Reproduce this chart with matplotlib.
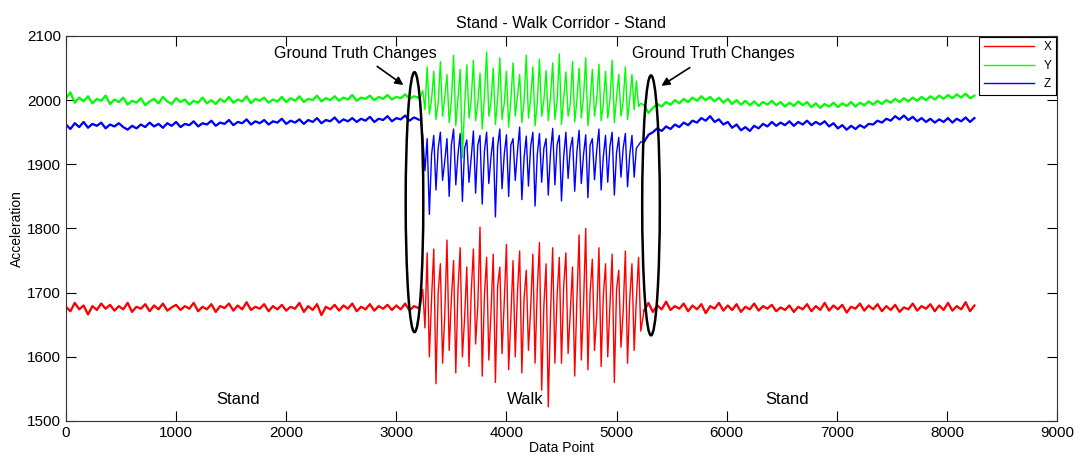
import numpy as np
import matplotlib
matplotlib.use("Agg")
import matplotlib.pyplot as plt
from matplotlib.patches import Ellipse

plt.rcParams['font.family'] = ['Liberation Sans', 'DejaVu Sans']

# sample positions of the three segments
x_stand1 = np.arange(0, 3201, 40)
x_walk = np.arange(3220, 5240, 20)
x_stand2 = np.arange(5250, 8251, 40)

# X axis (red)
red_stand1 = [
    1678, 1671, 1684, 1674, 1680, 1666, 1679, 1673, 1683, 1675, 1681, 1672,
    1679, 1674, 1684, 1670, 1678, 1675, 1682, 1671, 1680, 1674, 1683, 1672,
    1677, 1681, 1673, 1679, 1675, 1684, 1671, 1678, 1674, 1682, 1670, 1679,
    1676, 1683, 1672, 1680, 1674, 1685, 1673, 1678, 1675, 1682, 1671, 1679,
    1674, 1681, 1672, 1678, 1675, 1684, 1670, 1679, 1673, 1682, 1665, 1678,
    1674, 1681, 1672, 1680, 1675, 1683, 1671, 1678, 1674, 1682, 1672, 1679,
    1675, 1681, 1673, 1680, 1674, 1683, 1672, 1679, 1676]
red_walk = [
    1682, 1705, 1645, 1762, 1600, 1690, 1768, 1558, 1700, 1745, 1590, 1665,
    1782, 1610, 1690, 1750, 1575, 1705, 1770, 1600, 1660, 1740, 1585, 1700,
    1768, 1620, 1680, 1802, 1570, 1695, 1755, 1595, 1670, 1760, 1560, 1710,
    1740, 1605, 1685, 1775, 1580, 1660, 1750, 1600, 1700, 1765, 1575, 1690,
    1735, 1610, 1675, 1760, 1590, 1705, 1778, 1548, 1680, 1745, 1522, 1665,
    1770, 1590, 1695, 1755, 1590, 1710, 1762, 1605, 1670, 1740, 1570, 1690,
    1790, 1595, 1680, 1800, 1580, 1700, 1752, 1610, 1665, 1770, 1585, 1695,
    1745, 1600, 1680, 1760, 1560, 1705, 1735, 1615, 1670, 1765, 1590, 1690,
    1745, 1610, 1690, 1755, 1640]
red_stand2 = [
    1672, 1684, 1670, 1680, 1674, 1686, 1673, 1679, 1675, 1683, 1671, 1680,
    1674, 1682, 1668, 1679, 1675, 1684, 1672, 1680, 1673, 1682, 1670, 1678,
    1674, 1683, 1672, 1679, 1675, 1681, 1671, 1677, 1673, 1680, 1670, 1678,
    1674, 1682, 1671, 1679, 1673, 1684, 1672, 1680, 1674, 1681, 1669, 1678,
    1675, 1683, 1672, 1680, 1674, 1682, 1671, 1679, 1673, 1681, 1670, 1677,
    1674, 1683, 1672, 1679, 1675, 1682, 1671, 1680, 1673, 1684, 1672, 1679,
    1674, 1685, 1671, 1680]

# Y axis (green)
green_stand1 = [
    2003, 2012, 1996, 2004, 1998, 2006, 1995, 2002, 1999, 2007, 1994, 2001,
    1997, 2004, 1993, 1999, 1996, 2003, 1992, 1998, 2002, 1995, 2005, 1998,
    1994, 2003, 1997, 2001, 1993, 1999, 1996, 2004, 1995, 2000, 1994, 2002,
    1997, 2005, 1996, 2001, 1998, 2006, 1995, 2002, 1999, 2004, 1996, 2001,
    1998, 2005, 1997, 2003, 1999, 2006, 1997, 2002, 2000, 2007, 1998, 2003,
    2000, 2006, 1999, 2004, 2001, 2008, 1999, 2004, 2002, 2007, 2000, 2005,
    2002, 2008, 2001, 2005, 2003, 2009, 2002, 2006, 2004]
green_walk = [
    2005, 2015, 1985, 2052, 1978, 2000, 2045, 1970, 1995, 2060, 1975, 2005,
    2040, 1965, 1998, 2070, 1960, 2002, 2048, 1910, 1990, 2055, 1972, 2000,
    2062, 1968, 1995, 2042, 1955, 2005, 2075, 1975, 1998, 2050, 1962, 2002,
    2066, 1970, 1995, 2045, 1958, 2000, 2058, 1975, 2005, 2040, 1965, 1998,
    2070, 1972, 2002, 2052, 1960, 1995, 2064, 1975, 2000, 2046, 1968, 2005,
    2058, 1970, 1998, 2072, 1962, 2002, 2044, 1975, 1995, 2060, 1966, 2000,
    2050, 1972, 2005, 2066, 1960, 1998, 2048, 1975, 2002, 2056, 1968, 1995,
    2045, 1972, 2000, 2062, 1965, 2005, 2040, 1975, 1998, 2052, 1970, 2002,
    2040, 1985, 2030, 1990, 1995]
green_stand2 = [
    1992, 1980, 1988, 1994, 1990, 1997, 1993, 2000, 1995, 2002, 1997, 2004,
    1999, 2006, 2000, 2005, 1998, 2004, 1996, 2002, 1994, 2000, 1993, 1999,
    1992, 1998, 1991, 1997, 1993, 1999, 1992, 1997, 1990, 1996, 1991, 1998,
    1992, 1997, 1989, 1995, 1988, 1994, 1990, 1996, 1989, 1995, 1991, 1997,
    1990, 1996, 1992, 1998, 1993, 1999, 1994, 2000, 1996, 2002, 1997, 2003,
    1998, 2004, 1999, 2005, 2000, 2006, 2001, 2007, 2002, 2008, 2003, 2009,
    2004, 2010, 2003, 2007]

# Z axis (blue)
blue_stand1 = [
    1962, 1955, 1964, 1958, 1966, 1957, 1963, 1960, 1965, 1956, 1962, 1959,
    1964, 1958, 1954, 1960, 1956, 1962, 1958, 1965, 1959, 1963, 1957, 1964,
    1960, 1966, 1958, 1963, 1961, 1967, 1959, 1964, 1962, 1968, 1960, 1965,
    1963, 1969, 1961, 1966, 1964, 1970, 1962, 1967, 1964, 1969, 1962, 1967,
    1965, 1971, 1963, 1968, 1965, 1970, 1963, 1969, 1966, 1972, 1964, 1969,
    1967, 1973, 1965, 1970, 1967, 1972, 1966, 1971, 1968, 1974, 1966, 1971,
    1969, 1975, 1967, 1972, 1970, 1976, 1968, 1973, 1970]
blue_walk = [
    1968, 1945, 1890, 1940, 1822, 1915, 1945, 1860, 1925, 1950, 1875, 1905,
    1940, 1850, 1930, 1955, 1868, 1915, 1948, 1842, 1925, 1938, 1872, 1910,
    1952, 1855, 1930, 1945, 1838, 1920, 1950, 1870, 1912, 1942, 1818, 1928,
    1955, 1862, 1915, 1946, 1850, 1930, 1940, 1875, 1920, 1958, 1845, 1910,
    1944, 1866, 1928, 1950, 1835, 1915, 1948, 1872, 1925, 1940, 1852, 1918,
    1956, 1868, 1930, 1945, 1843, 1912, 1950, 1878, 1925, 1942, 1858, 1920,
    1953, 1870, 1915, 1946, 1848, 1930, 1940, 1876, 1922, 1955, 1860, 1912,
    1945, 1872, 1928, 1950, 1852, 1918, 1942, 1880, 1925, 1948, 1865, 1915,
    1945, 1880, 1925, 1930, 1935]
blue_stand2 = [
    1935, 1946, 1950, 1956, 1952, 1959, 1955, 1962, 1958, 1965, 1961, 1968,
    1965, 1972, 1968, 1975, 1966, 1970, 1962, 1966, 1957, 1962, 1953, 1958,
    1952, 1960, 1956, 1963, 1959, 1966, 1960, 1965, 1961, 1967, 1960, 1966,
    1962, 1968, 1961, 1966, 1962, 1967, 1959, 1964, 1956, 1961, 1954, 1960,
    1955, 1961, 1957, 1963, 1962, 1968, 1965, 1971, 1968, 1975, 1970, 1976,
    1969, 1974, 1967, 1972, 1966, 1971, 1965, 1970, 1966, 1972, 1965, 1971,
    1967, 1973, 1966, 1972]

segment_labels = ['Stand', 'Walk', 'Stand']
segment_label_x = [1560, 4170, 6550]


def main():
    x = np.concatenate([x_stand1, x_walk, x_stand2])
    series = [
        ('X', 'red', red_stand1, red_walk, red_stand2),
        ('Y', 'lime', green_stand1, green_walk, green_stand2),
        ('Z', 'blue', blue_stand1, blue_walk, blue_stand2),
    ]

    fig = plt.figure(figsize=(10.8, 4.57), dpi=100)
    ax = fig.add_axes([0.0611, 0.0788, 0.9176, 0.8425])

    for name, color, s1, walk, s2 in series:
        ax.plot(x, s1 + walk + s2, color=color, lw=1.0, label=name)
        # the standing parts are a thick noisy band in the original
        ax.plot(x_stand1, s1, color=color, lw=1.6)
        ax.plot(x_stand2, s2, color=color, lw=1.6)

    # ground truth change markers
    for cx, cy in [(3165, 1841), (5313, 1836)]:
        ax.add_patch(Ellipse((cx, cy), 160, 405, fill=False, ec='black', lw=1.8, zorder=5))

    ax.text(2625, 2073, 'Ground Truth Changes', ha='center', va='center', fontsize=11.5)
    ax.text(5876, 2073, 'Ground Truth Changes', ha='center', va='center', fontsize=11.5)
    arrow = dict(arrowstyle='-|>', color='black', lw=1.2, mutation_scale=12)
    ax.annotate('', xy=(3085, 2021), xytext=(2806, 2055), arrowprops=arrow)
    ax.annotate('', xy=(5386, 2020), xytext=(5686, 2053), arrowprops=arrow)

    for lab, lx in zip(segment_labels, segment_label_x):
        ax.text(lx, 1534, lab, ha='center', va='center', fontsize=12)

    ax.set_xlim(0, 9000)
    ax.set_ylim(1500, 2100)
    ax.set_xticks(np.arange(0, 9001, 1000))
    ax.set_yticks(np.arange(1500, 2101, 100))
    ax.tick_params(direction='in', top=True, right=True, length=7, labelsize=11, width=0.8)
    for sp in ax.spines.values():
        sp.set_linewidth(0.8)
        sp.set_color('#333333')

    ax.set_title('Stand - Walk Corridor - Stand', fontsize=11.5, pad=6)
    ax.set_xlabel('Data Point', fontsize=10, labelpad=1)
    ax.set_ylabel('Acceleration', fontsize=10, labelpad=2)

    leg = ax.legend(loc='upper right', fontsize=8.5, handlelength=4.3, borderaxespad=0.05,
                    fancybox=False, framealpha=1, edgecolor='black', labelspacing=0.55)
    leg.get_frame().set_linewidth(0.8)

    fig.savefig('out.png', dpi=100)


if __name__ == '__main__':
    main()
